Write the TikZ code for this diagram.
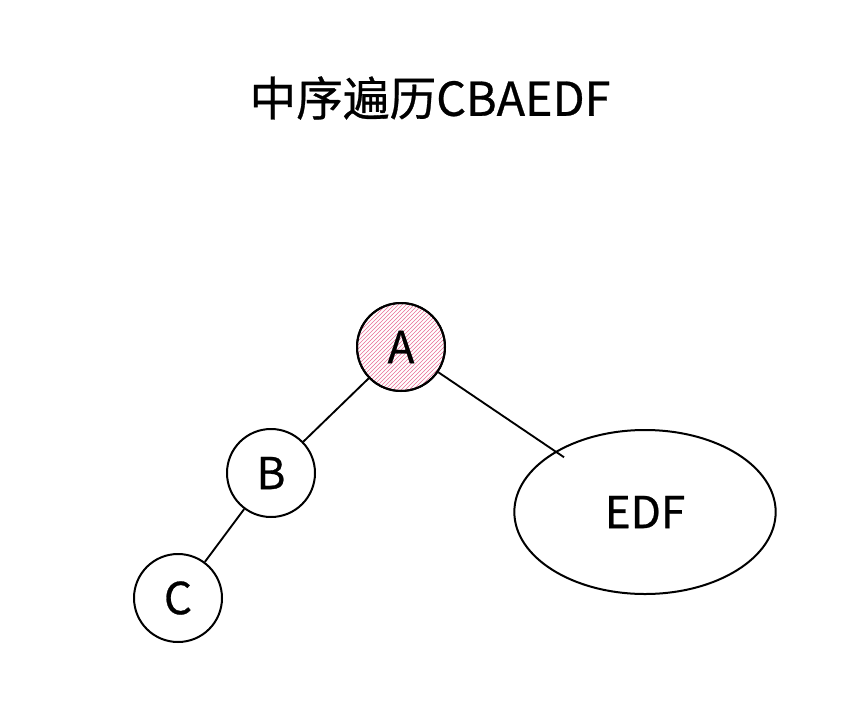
\documentclass[tikz,border=0pt]{standalone}
\usepackage{fontspec}
\usepackage{tikz}
\usetikzlibrary{patterns,shapes.geometric}
\newfontfamily\cjk[FakeBold=0.6]{Noto Sans CJK SC}
\definecolor{hatchpink}{RGB}{232,110,150}
\tikzset{
        % tree nodes drawn as circles, the subtree as an ellipse
        treenode/.style={draw, circle, line width=1.5pt, minimum size=66pt, inner sep=0pt, font=\cjk\fontsize{33}{33}\selectfont},
        subtree/.style={draw, ellipse, line width=1.5pt, minimum width=196pt, minimum height=123pt, inner sep=0pt, font=\cjk\fontsize{33}{33}\selectfont},
        treeedge/.style={line width=1.4pt}
    }
\begin{document}
\begin{tikzpicture}[x=0.75pt,y=0.75pt,yscale=-1,xscale=1]
%set diagram left start at 0, and has height of 707
\useasboundingbox (0,0) rectangle (856,707);

% Text Node
\node (title) at (430,98) {\cjk\fontsize{35}{35}\selectfont 中序遍历CBAEDF};

%Shape: Circle
\node [treenode, pattern=north east lines, pattern color=hatchpink] (A) at (401,347) {};
\node [treenode] at (A) {A};
%Shape: Circle
\node [treenode] (B) at (271,473) {B};
%Shape: Circle
\node [treenode] (C) at (178,598) {C};
%Shape: Ellipse
\node [subtree] (EDF) at (645,512) {EDF};

%Straight Lines
\draw [treeedge] (A) -- (B) ;
\draw [treeedge] (B) -- (C) ;
\draw [treeedge, shorten >=-8pt] (A) -- (EDF) ;

\end{tikzpicture}
\end{document}
